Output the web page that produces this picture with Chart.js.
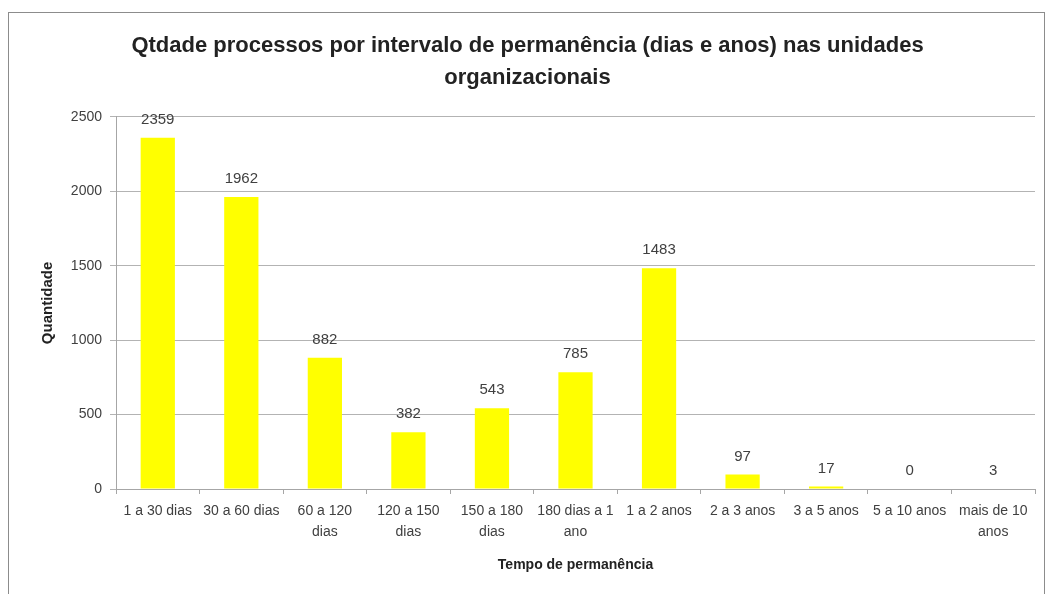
<!DOCTYPE html>
<html>
<head>
<meta charset="utf-8">
<script src="https://cdn.jsdelivr.net/npm/chart.js@4.4.0/dist/chart.umd.min.js"></script>
<style>
  html, body { margin: 0; padding: 0; background: #fff; }
  #wrap { position: relative; width: 1049px; height: 594px; overflow: hidden; }
  #frame { position: absolute; left: 8px; top: 12px; width: 1037px; height: 640px; border: 1px solid #8c8c8c; box-sizing: border-box; }
  canvas { position: absolute; left: 0; top: 0; }
</style>
</head>
<body>
<div id="wrap">
  <div id="frame"></div>
  <canvas id="c" width="1049" height="594"></canvas>
</div>
<script>
// ── dados ──
var categorias = [
  '1 a 30 dias', '30 a 60 dias', ['60 a 120', 'dias'], ['120 a 150', 'dias'],
  ['150 a 180', 'dias'], ['180 dias a 1', 'ano'], '1 a 2 anos', '2 a 3 anos',
  '3 a 5 anos', '5 a 10 anos', ['mais de 10', 'anos']
];
var quantidades = [2359, 1962, 882, 382, 543, 785, 1483, 97, 17, 0, 3];
var yTicks = [0, 500, 1000, 1500, 2000, 2500];

var FONT = 'Liberation Sans, Arial, sans-serif';
var txt = '#404040';

// rótulos de valor acima das barras
var valorLabels = {
  id: 'valorLabels',
  afterDatasetsDraw: function(chart) {
    var ctx = chart.ctx;
    var meta = chart.getDatasetMeta(0);
    ctx.save();
    ctx.font = '15px ' + FONT;
    ctx.fillStyle = txt;
    ctx.textAlign = 'center';
    ctx.textBaseline = 'middle';
    meta.data.forEach(function(bar, i) {
      ctx.fillText(String(quantidades[i]), bar.x, bar.y - 18);
    });
    ctx.restore();
  }
};

new Chart(document.getElementById('c').getContext('2d'), {
  type: 'bar',
  data: {
    labels: categorias,
    datasets: [{
      data: quantidades,
      backgroundColor: '#FFFF00',
      borderWidth: 0,
      categoryPercentage: 0.82,
      barPercentage: 0.5
    }]
  },
  options: {
    responsive: false, animation: false,
    layout: { padding: { left: 20, right: 14, top: 0, bottom: 0 } },
    plugins: {
      legend: { display: false },
      tooltip: { enabled: false },
      title: {
        display: true,
        text: ['Qtdade processos por intervalo de permanência (dias e anos) nas unidades', 'organizacionais'],
        color: '#222',
        font: { family: FONT, size: 22, weight: 'bold', lineHeight: 1.45 },
        padding: { top: 30, bottom: 23 }
      }
    },
    scales: {
      x: {
        grid: { drawOnChartArea: false, offset: true, tickLength: 5, color: '#a6a6a6' },
        border: { display: true, color: '#a6a6a6' },
        ticks: { color: txt, font: { family: FONT, size: 14, lineHeight: 1.55 }, maxRotation: 0, autoSkip: false, padding: 6 },
        title: { display: true, text: 'Tempo de permanência', color: '#222', font: { family: FONT, size: 14, weight: 'bold' }, padding: { top: 6, bottom: 20 } },
        afterFit: function(s) { s.height = 105; }
      },
      y: {
        min: 0, max: 2500,
        afterBuildTicks: function(s) { s.ticks = yTicks.map(function(v) { return { value: v }; }); },
        grid: { color: '#b3b3b3', tickLength: 6 },
        border: { display: true, color: '#a6a6a6' },
        ticks: { color: txt, font: { family: FONT, size: 14 }, padding: 8, callback: function(v) { return String(v); } },
        title: { display: true, text: 'Quantidade', color: '#222', font: { family: FONT, size: 15, weight: 'bold' }, padding: { top: 19, bottom: 0 } },
        afterFit: function(s) { s.width = 96; }
      }
    }
  },
  plugins: [valorLabels]
});
</script>
</body>
</html>
